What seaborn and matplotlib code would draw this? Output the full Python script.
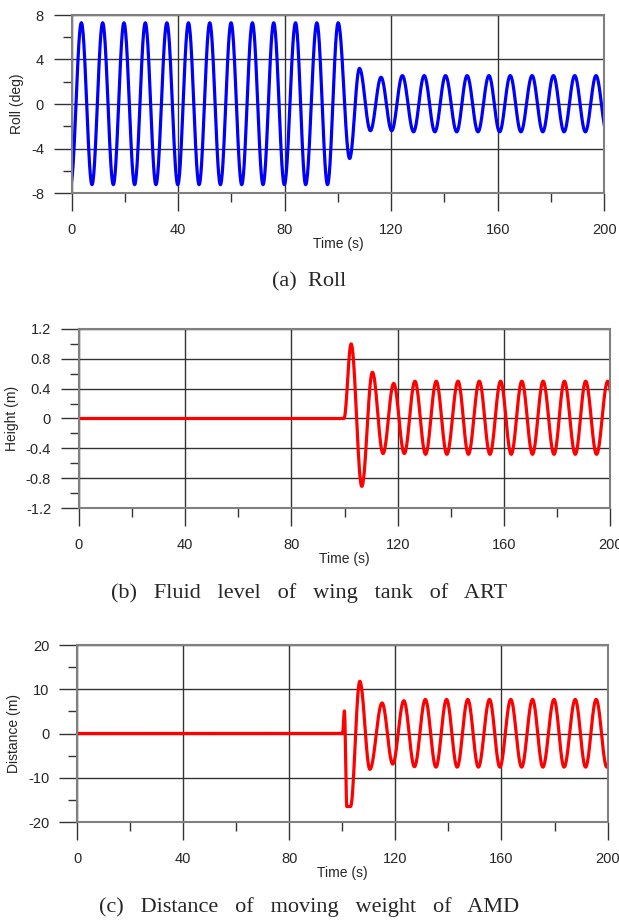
import numpy as np
import pandas as pd
import matplotlib
matplotlib.use('Agg')
import matplotlib.pyplot as plt
import seaborn as sns
from matplotlib.ticker import MultipleLocator, FuncFormatter

# Turning points (time, value)
roll_t = [-0.3, 3.7, 7.7, 11.7, 15.7, 19.7, 23.7, 27.7, 31.7, 35.8, 39.9, 43.9,
          47.9, 51.9, 55.9, 59.9, 63.9, 67.9, 71.9, 75.9, 79.9, 84.1, 87.9, 92.1,
          96.1, 100.1, 104.4, 108.1, 112.2, 116.2, 120.2, 124.2, 128.4, 132.4,
          136.4, 140.4, 144.6, 148.5, 152.6, 156.7, 160.7, 164.7, 168.7, 172.9,
          176.9, 180.9, 184.9, 188.9, 192.9, 196.9, 200.9]
roll_v = [-7.2, 7.3, -7.25, 7.3, -7.25, 7.3, -7.25, 7.3, -7.25, 7.3, -7.25, 7.3,
          -7.25, 7.3, -7.25, 7.3, -7.25, 7.3, -7.25, 7.3, -7.25, 7.3, -7.25, 7.3,
          -7.25, 7.3, -4.9, 3.2, -2.4, 2.4, -2.4, 2.55, -2.5, 2.55,
          -2.5, 2.55, -2.5, 2.55, -2.5, 2.55, -2.5, 2.55, -2.5, 2.55,
          -2.5, 2.55, -2.5, 2.55, -2.5, 2.55, -2.5]

height_t = [0, 99.8, 102.5, 106.5, 110.5, 114.5, 118.5, 122.5, 126.5, 130.5,
            134.5, 138.5, 142.7, 146.6, 150.7, 154.7, 158.7, 162.7, 166.7, 170.7,
            174.7, 178.8, 182.7, 186.8, 190.7, 194.8, 199.0, 203.0]
height_v = [0, 0, 1.0, -0.91, 0.62, -0.47, 0.47, -0.47, 0.5, -0.48,
            0.5, -0.48, 0.5, -0.48, 0.5, -0.48, 0.5, -0.48, 0.5, -0.48,
            0.5, -0.48, 0.5, -0.48, 0.5, -0.48, 0.5, -0.48]

dist_t = [0, 100.1, 100.8, 101.7, 103.1, 106.6, 110.4, 115.0, 119.0, 123.2,
          127.2, 131.3, 135.3, 139.3, 143.3, 147.3, 151.3, 155.5, 159.4, 163.5,
          167.6, 171.7, 175.6, 179.8, 183.6, 187.8, 191.7, 195.7, 199.7, 203.7]
dist_v = [0, 0, 5.1, -16.5, -16.5, 11.8, -8.1, 6.9, -6.9, 7.4,
          -7.5, 7.7, -7.6, 7.7, -7.6, 7.7, -7.6, 7.7, -7.6, 7.7,
          -7.6, 7.7, -7.6, 7.7, -7.6, 7.7, -7.6, 7.7, -7.6, 7.7]

captions = ['(a)  Roll',
            '(b)   Fluid   level   of   wing   tank   of   ART',
            '(c)   Distance   of   moving   weight   of   AMD']


def swing(t, v, n=30):
    # draw a half-wave between each pair of read turning points
    xs, ys = [], []
    s = np.linspace(0, 1, n, endpoint=False)
    w = (1 - np.cos(np.pi * s)) / 2
    for i in range(len(t) - 1):
        xs.append(t[i] + (t[i + 1] - t[i]) * s)
        ys.append(v[i] + (v[i + 1] - v[i]) * w)
    xs.append([t[-1]])
    ys.append([v[-1]])
    return pd.DataFrame({'t': np.concatenate(xs), 'v': np.concatenate(ys)})


def fmt(x, pos):
    return '%g' % (round(x, 2) + 0.0)


sns.set_style('white')
plt.rcParams['font.family'] = ['Liberation Sans', 'DejaVu Sans']

W, H = 619, 922
fig = plt.figure(figsize=(W / 100, H / 100), dpi=100)

panels = [
    # left, right, top, bottom in pixels
    ((71.5, 604.3, 15, 193), roll_t, roll_v, '#0000ff', (-8, 8), 4, 2, 'Roll (deg)'),
    ((78.6, 610.4, 329, 508), height_t, height_v, '#ff0000', (-1.2, 1.2), 0.4, 0.2, 'Height (m)'),
    ((77.0, 607.6, 645, 822), dist_t, dist_v, '#ff0000', (-20, 20), 10, 5, 'Distance (m)'),
]
cap_y = [282, 593, 907]

for (box, t, v, col, ylim, ymaj, ymin, ylab), cy, cap in zip(panels, cap_y, captions):
    l, r, tp, b = box
    ax = fig.add_axes([l / W, 1 - b / H, (r - l) / W, (b - tp) / H])
    df = swing(t, v)
    sns.lineplot(data=df, x='t', y='v', ax=ax, color=col, linewidth=2.3,
                 sort=False, estimator=None)
    ax.set_xlim(0, 200)
    ax.set_ylim(*ylim)
    ax.xaxis.set_major_locator(MultipleLocator(40))
    ax.xaxis.set_minor_locator(MultipleLocator(20))
    ax.yaxis.set_major_locator(MultipleLocator(ymaj))
    ax.yaxis.set_minor_locator(MultipleLocator(ymin))
    ax.yaxis.set_major_formatter(FuncFormatter(fmt))
    ax.grid(which='major', color='#333333', linewidth=1)
    ax.set_axisbelow(True)
    ax.tick_params(which='major', direction='out', length=12.8, width=1,
                   color='#333333', labelsize=10.5, bottom=True, left=True)
    ax.tick_params(which='minor', direction='out', length=6.2, width=1,
                   color='#333333', bottom=True, left=True)
    ax.tick_params(axis='x', which='major', pad=9)
    ax.tick_params(axis='y', which='major', pad=7)
    for sp in ax.spines.values():
        sp.set_color('#808080')
        sp.set_linewidth(1.5)
    ax.set_xlabel('Time (s)', fontsize=10, labelpad=0)
    ax.set_ylabel(ylab, fontsize=10, labelpad=5)
    fig.text(0.5, 1 - cy / H, cap, ha='center', va='center', fontsize=16,
             family=['Liberation Serif', 'DejaVu Serif'])

fig.savefig('out.png', dpi=100)
